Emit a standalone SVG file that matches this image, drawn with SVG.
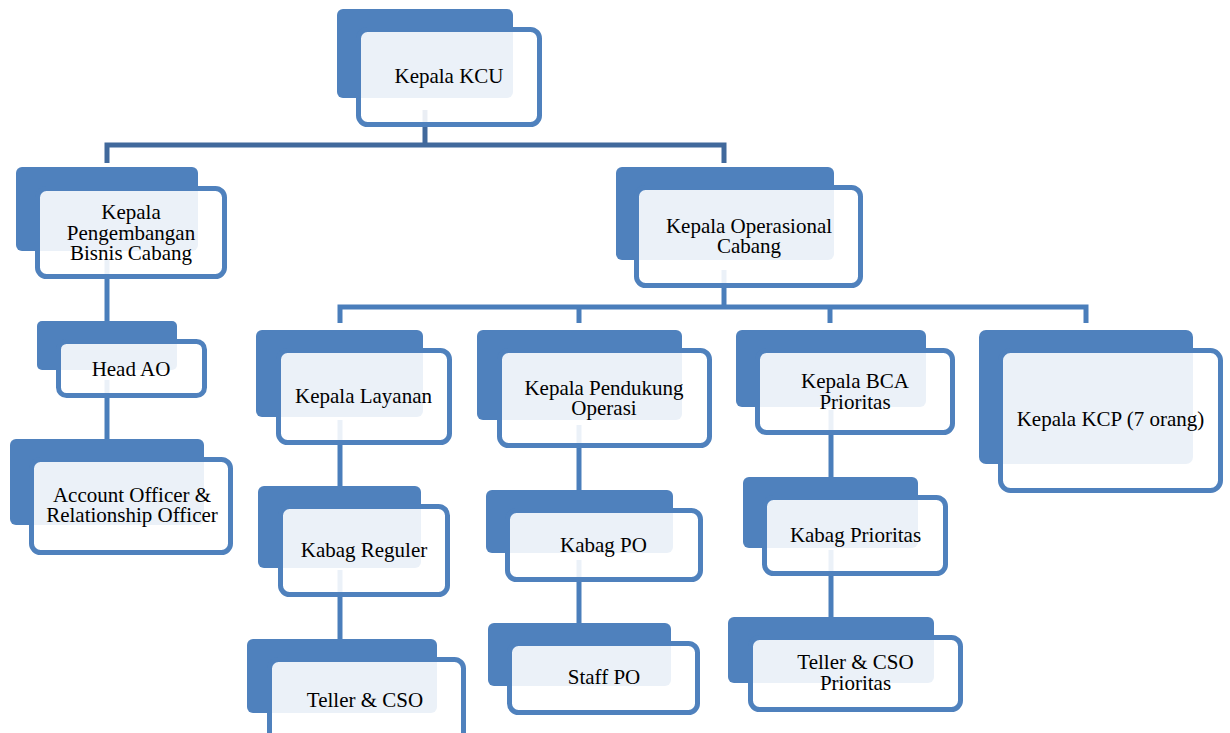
<svg xmlns="http://www.w3.org/2000/svg" width="1230" height="733" viewBox="0 0 1230 733">
<style>
.bk{fill:#4F81BD;}
.fr{fill:#FFFFFF;fill-opacity:0.89;stroke:#4F81BD;stroke-width:5;}
.t{font-family:'Liberation Serif','Times New Roman',Times,'DejaVu Serif',serif;font-size:21px;fill:#000000;text-anchor:middle;}
.c1{fill:none;stroke:#41699C;stroke-width:5;}
.c2{fill:none;stroke:#4A7EBB;stroke-width:5;}
</style>
<rect width="1230" height="733" fill="#FFFFFF"/>
<g id="connectors">
<path class="c1" d="M425,110 V145"/>
<path class="c1" d="M107,163 V145 H724 V163"/>
<path class="c2" d="M724,270 V307"/>
<path class="c2" d="M340,323 V307 H1086 V323"/>
<path class="c2" d="M579,307 V323"/>
<path class="c2" d="M830,307 V323"/>
<path class="c2" d="M107,260 V321"/>
<path class="c2" d="M107,380 V439"/>
<path class="c2" d="M340,420 V486"/>
<path class="c2" d="M340,570 V639"/>
<path class="c2" d="M579,425 V490"/>
<path class="c2" d="M579,560 V623"/>
<path class="c2" d="M831,410 V477"/>
<path class="c2" d="M831,550 V617"/>
</g>
<g id="n-kcu">
<rect class="bk" x="337" y="9" width="176" height="89" rx="6"/>
<rect class="fr" x="358.5" y="29.5" width="181" height="95" rx="9"/>
<text class="t" font-family="'Liberation Serif', serif" x="449" y="83">Kepala KCU</text>
</g>
<g id="n-kpbc">
<rect class="bk" x="16" y="167" width="182" height="84" rx="6"/>
<rect class="fr" x="37.5" y="188.5" width="187" height="88" rx="9"/>
<text class="t" font-family="'Liberation Serif', serif" x="131" y="219">Kepala</text>
<text class="t" font-family="'Liberation Serif', serif" x="131" y="239.5">Pengembangan</text>
<text class="t" font-family="'Liberation Serif', serif" x="131" y="260">Bisnis Cabang</text>
</g>
<g id="n-headao">
<rect class="bk" x="37" y="321" width="140" height="49" rx="5"/>
<rect class="fr" x="58.5" y="341.5" width="146" height="54" rx="8"/>
<text class="t" font-family="'Liberation Serif', serif" x="131" y="376">Head AO</text>
</g>
<g id="n-aoro">
<rect class="bk" x="10" y="439" width="194" height="86" rx="6"/>
<rect class="fr" x="31.5" y="459.5" width="199" height="93" rx="9"/>
<text class="t" font-family="'Liberation Serif', serif" x="132" y="501.5">Account Officer &amp;</text>
<text class="t" font-family="'Liberation Serif', serif" x="132" y="522">Relationship Officer</text>
</g>
<g id="n-koc">
<rect class="bk" x="616" y="167" width="218" height="93" rx="6"/>
<rect class="fr" x="636.5" y="187.5" width="224" height="98" rx="9"/>
<text class="t" font-family="'Liberation Serif', serif" x="749" y="232.5">Kepala Operasional</text>
<text class="t" font-family="'Liberation Serif', serif" x="749" y="253">Cabang</text>
</g>
<g id="n-kl">
<rect class="bk" x="256" y="330" width="167" height="87" rx="6"/>
<rect class="fr" x="278.5" y="350.5" width="171" height="92" rx="9"/>
<text class="t" font-family="'Liberation Serif', serif" x="363.5" y="403">Kepala Layanan</text>
</g>
<g id="n-kr">
<rect class="bk" x="258" y="486" width="163" height="82" rx="6"/>
<rect class="fr" x="280.5" y="506.5" width="167" height="88" rx="9"/>
<text class="t" font-family="'Liberation Serif', serif" x="364" y="557">Kabag Reguler</text>
</g>
<g id="n-tc">
<rect class="bk" x="247" y="639" width="190" height="74" rx="6"/>
<rect class="fr" x="269.5" y="659.5" width="194" height="90" rx="9"/>
<text class="t" font-family="'Liberation Serif', serif" x="365" y="707">Teller &amp; CSO</text>
</g>
<g id="n-kpo">
<rect class="bk" x="477" y="330" width="205" height="90" rx="6"/>
<rect class="fr" x="499.5" y="350.5" width="210" height="95" rx="9"/>
<text class="t" font-family="'Liberation Serif', serif" x="604" y="395">Kepala Pendukung</text>
<text class="t" font-family="'Liberation Serif', serif" x="604" y="415">Operasi</text>
</g>
<g id="n-kabagpo">
<rect class="bk" x="486" y="490" width="187" height="63" rx="6"/>
<rect class="fr" x="507.5" y="510.5" width="193" height="69" rx="9"/>
<text class="t" font-family="'Liberation Serif', serif" x="603.5" y="552">Kabag PO</text>
</g>
<g id="n-staffpo">
<rect class="bk" x="488" y="623" width="183" height="63" rx="6"/>
<rect class="fr" x="509.5" y="643.5" width="188" height="69" rx="9"/>
<text class="t" font-family="'Liberation Serif', serif" x="604" y="684">Staff PO</text>
</g>
<g id="n-kbca">
<rect class="bk" x="736" y="330" width="190" height="77" rx="6"/>
<rect class="fr" x="757.5" y="350.5" width="195" height="82" rx="9"/>
<text class="t" font-family="'Liberation Serif', serif" x="855" y="388">Kepala BCA</text>
<text class="t" font-family="'Liberation Serif', serif" x="855" y="409">Prioritas</text>
</g>
<g id="n-kabagp">
<rect class="bk" x="743" y="477" width="175" height="71" rx="6"/>
<rect class="fr" x="764.5" y="497.5" width="181" height="76" rx="9"/>
<text class="t" font-family="'Liberation Serif', serif" x="855.5" y="542">Kabag Prioritas</text>
</g>
<g id="n-tcp">
<rect class="bk" x="728" y="617" width="206" height="66" rx="6"/>
<rect class="fr" x="750.5" y="637.5" width="210" height="72" rx="9"/>
<text class="t" font-family="'Liberation Serif', serif" x="855.5" y="669">Teller &amp; CSO</text>
<text class="t" font-family="'Liberation Serif', serif" x="855.5" y="690">Prioritas</text>
</g>
<g id="n-kcp">
<rect class="bk" x="979" y="330" width="214" height="134" rx="7"/>
<rect class="fr" x="1000.5" y="350.5" width="220" height="140" rx="10"/>
<text class="t" font-family="'Liberation Serif', serif" x="1110.5" y="426">Kepala KCP (7 orang)</text>
</g>
</svg>
